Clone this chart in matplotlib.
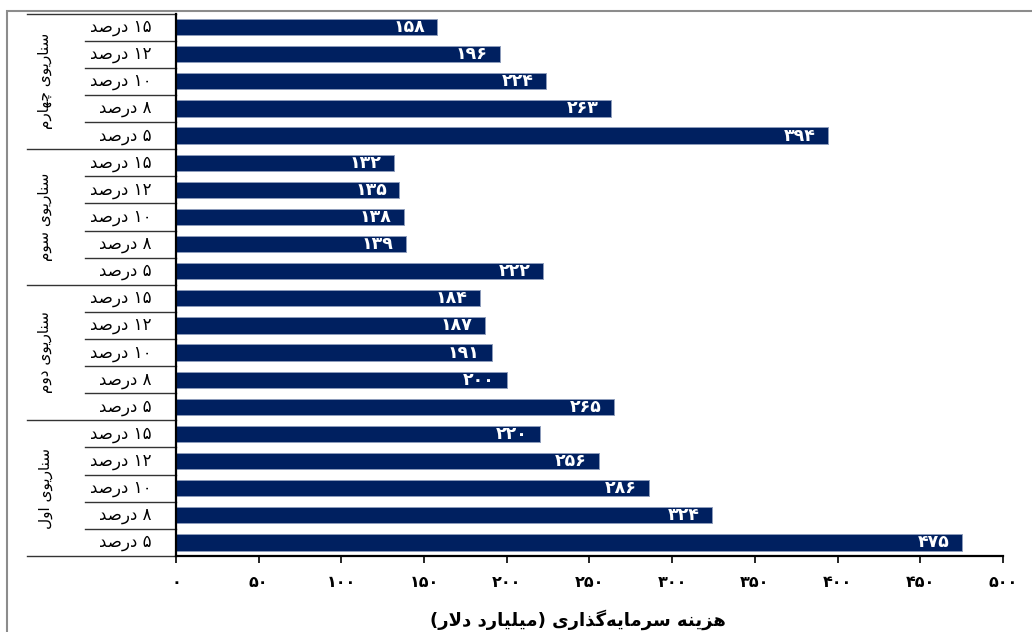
"""
Investment cost by scenario and discount rate, drawn as a grouped
horizontal bar chart with a two-level (scenario / rate) category axis.
"""

import matplotlib
matplotlib.use("Agg")
import matplotlib.pyplot as plt
from matplotlib.patches import Rectangle
from matplotlib.transforms import blended_transform_factory

# ---------------------------------------------------------------------------
# Data (bottom to top)
# ---------------------------------------------------------------------------

scenarios = ["سناریوی اول", "سناریوی دوم", "سناریوی سوم", "سناریوی چهارم"]
rates = ["۵ درصد", "۸ درصد", "۱۰ درصد", "۱۲ درصد", "۱۵ درصد"]

cost_s1 = [475, 324, 286, 256, 220]
cost_s2 = [265, 200, 191, 187, 184]
cost_s3 = [222, 139, 138, 135, 132]
cost_s4 = [394, 263, 224, 196, 158]

x_ticks = [0, 50, 100, 150, 200, 250, 300, 350, 400, 450, 500]
x_title = "هزینه سرمایه\u200cگذاری (میلیارد دلار)"

# ---------------------------------------------------------------------------
# Minimal Arabic-script shaping (matplotlib has no text shaping engine)
# ---------------------------------------------------------------------------

# letter -> (isolated, final, initial, medial); None = does not join forward
FORMS = {
    "\u0627": ("\uFE8D", "\uFE8E", None, None),
    "\u0622": ("\uFE81", "\uFE82", None, None),
    "\u062F": ("\uFEA9", "\uFEAA", None, None),
    "\u0630": ("\uFEAB", "\uFEAC", None, None),
    "\u0631": ("\uFEAD", "\uFEAE", None, None),
    "\u0632": ("\uFEAF", "\uFEB0", None, None),
    "\u0698": ("\uFB8A", "\uFB8B", None, None),
    "\u0648": ("\uFEED", "\uFEEE", None, None),
    "\u0628": ("\uFE8F", "\uFE90", "\uFE91", "\uFE92"),
    "\u067E": ("\uFB56", "\uFB57", "\uFB58", "\uFB59"),
    "\u062A": ("\uFE95", "\uFE96", "\uFE97", "\uFE98"),
    "\u0633": ("\uFEB1", "\uFEB2", "\uFEB3", "\uFEB4"),
    "\u0635": ("\uFEB9", "\uFEBA", "\uFEBB", "\uFEBC"),
    "\u0644": ("\uFEDD", "\uFEDE", "\uFEDF", "\uFEE0"),
    "\u0645": ("\uFEE1", "\uFEE2", "\uFEE3", "\uFEE4"),
    "\u0646": ("\uFEE5", "\uFEE6", "\uFEE7", "\uFEE8"),
    "\u0647": ("\uFEE9", "\uFEEA", "\uFEEB", "\uFEEC"),
    "\u06CC": ("\uFBFC", "\uFBFD", "\uFBFE", "\uFBFF"),
    "\u0686": ("\uFB7A", "\uFB7B", "\uFB7C", "\uFB7D"),
    "\u06A9": ("\uFB8E", "\uFB8F", "\uFB90", "\uFB91"),
    "\u06AF": ("\uFB92", "\uFB93", "\uFB94", "\uFB95"),
}
LAM, ALEF = "\u0644", "\u0627"
MIRROR = {"(": ")", ")": "("}


def joins_forward(ch):
    return ch in FORMS and FORMS[ch][2] is not None


def shape(text):
    out = []
    i = 0
    n = len(text)
    while i < n:
        ch = text[i]
        if ch not in FORMS:
            if ch != "\u200c":
                out.append(ch)
            i += 1
            continue
        prev = text[i - 1] if i > 0 else ""
        joined_prev = joins_forward(prev)
        if ch == LAM and i + 1 < n and text[i + 1] == ALEF:
            out.append("\uFEFC" if joined_prev else "\uFEFB")
            i += 2
            continue
        nxt = text[i + 1] if i + 1 < n else ""
        joined_next = joins_forward(ch) and nxt in FORMS
        iso, fin, ini, med = FORMS[ch]
        if joined_prev and joined_next:
            out.append(med)
        elif joined_prev:
            out.append(fin)
        elif joined_next:
            out.append(ini)
        else:
            out.append(iso)
        i += 1
    return "".join(out)


def rtl(text):
    """Shape and reorder a right-to-left string for left-to-right drawing."""
    rev = [MIRROR.get(c, c) for c in reversed(shape(text))]
    # digit runs read left to right, so put them back in order
    res, run = [], []
    for c in rev:
        if "\u06F0" <= c <= "\u06F9":
            run.append(c)
        else:
            res.extend(reversed(run))
            run = []
            res.append(c)
    res.extend(reversed(run))
    return "".join(res)


def fa_digits(value):
    return "".join(chr(0x06F0 + int(d)) for d in str(value))


# ---------------------------------------------------------------------------
# Chart
# ---------------------------------------------------------------------------

plt.rcParams["font.family"] = ["DejaVu Sans"]

values = cost_s1 + cost_s2 + cost_s3 + cost_s4
positions = list(range(len(values)))
n_rates = len(rates)

fig = plt.figure(figsize=(10.32, 6.32), dpi=100)
ax = fig.add_axes([0.1705, 0.1203, 0.8014, 0.8583])

bars = ax.barh(positions, values, height=0.6, color="#002060",
               edgecolor="#8d9cbb", linewidth=0.7)

for bar, v in zip(bars, values):
    ax.text(v - 7.5, bar.get_y() + bar.get_height() / 2, fa_digits(v),
            ha="right", va="center", color="white", fontsize=12.5,
            fontweight="bold")

ax.set_xlim(0, 500)
ax.set_ylim(-0.5, len(values) - 0.5)
ax.set_xticks(x_ticks)
ax.set_xticklabels([fa_digits(t) for t in x_ticks], fontsize=11.5,
                   fontweight="bold")
ax.tick_params(axis="x", direction="out", length=5, width=1.2, pad=9,
               color="black")
ax.set_yticks([])
ax.set_xlabel(rtl(x_title), fontsize=13, fontweight="bold", labelpad=14)
ax.xaxis.label.set_x(0.486)

for side in ("top", "right"):
    ax.spines[side].set_visible(False)
for side in ("left", "bottom"):
    ax.spines[side].set_linewidth(1.6)
    ax.spines[side].set_color("black")

# two-level category axis on the left
trans = blended_transform_factory(ax.transAxes, ax.transData)
inner_x, outer_x = -0.110, -0.180

for k, pos in enumerate(positions):
    ax.text(-0.029, pos, rtl(rates[k % n_rates]), transform=trans,
            ha="right", va="center", fontsize=12)
    if (k + 1) % n_rates:
        ax.plot([inner_x, 0], [pos + 0.5, pos + 0.5], transform=trans,
                color="#333333", linewidth=1.0, clip_on=False)

for g, name in enumerate(scenarios):
    lo = g * n_rates - 0.5
    ax.plot([outer_x, 0], [lo, lo], transform=trans, color="#333333",
            linewidth=1.0, clip_on=False)
    ax.text(-0.158, lo + n_rates / 2, rtl(name), transform=trans,
            rotation=90, ha="center", va="center", fontsize=11)
top = len(values) - 0.5
ax.plot([outer_x, 0], [top, top], transform=trans, color="#333333",
        linewidth=1.0, clip_on=False)

# outer frame
fig.patches.append(Rectangle((7 / 1032, -0.05), 1.1, 1 - 11 / 632 + 0.05,
                             transform=fig.transFigure, fill=False,
                             edgecolor="#8c8c8c", linewidth=1.5))

fig.savefig("out.png", dpi=100)
plt.close(fig)
